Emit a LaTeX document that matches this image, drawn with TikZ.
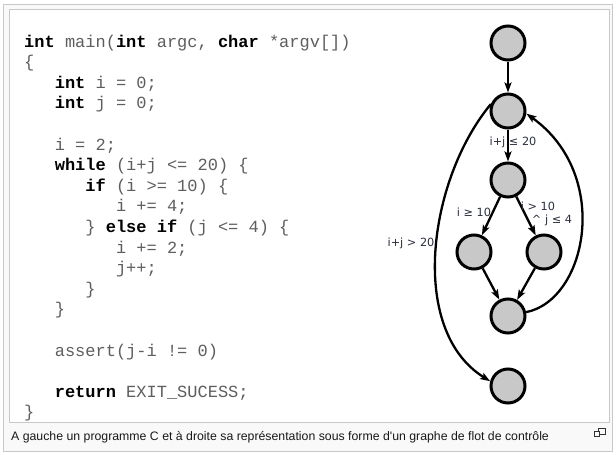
\documentclass[tikz,border=0pt]{standalone}
\usepackage{fontspec}
\setmainfont{Liberation Sans}
\newfontfamily\codefont{Liberation Mono}
\newfontfamily\labfont{DejaVu Sans}
\newfontfamily\capfont{Liberation Sans}[Ligatures=TeXOff]
\usetikzlibrary{arrows.meta}
\definecolor{codegray}{HTML}{5E5E5E}
\definecolor{framegray}{HTML}{C8C8C8}
\definecolor{outerbg}{HTML}{F9F9F9}
\definecolor{nodefill}{HTML}{C8C8C8}
\definecolor{labcol}{HTML}{2C3040}
\newcommand{\kw}[1]{{\bfseries\color{black}#1}}
\tikzset{
  codeline/.style={anchor=base west, inner sep=0pt, font=\codefont\fontsize{17}{20}\selectfont, text=codegray},
  cfgnode/.style={circle, draw=black, fill=nodefill, line width=3pt, minimum size=34pt, inner sep=0pt},
  cfgedge/.style={line width=2.3pt, -{Stealth[length=10pt,width=7pt,inset=2pt]}},
  edgelab/.style={inner sep=0pt, font=\labfont\fontsize{11.3}{13}\selectfont, text=labcol}
}
\begin{document}
\begin{tikzpicture}[x=1pt,y=-1pt]
\useasboundingbox (0,0) rectangle (616,455);
\fill[white] (0,0) rectangle (616,455);
% frames
\draw[framegray, fill=outerbg, line width=1pt] (3.5,4.5) rectangle (612.5,451.5);
\draw[framegray, fill=white, line width=1pt] (9.5,9.5) rectangle (609.5,422.5);
% code
\node[codeline] (l0) at (24,47) {\kw{int} main(\kw{int} argc, \kw{char} *argv[])};
\node[codeline] (l1) at (24,67.6) {\{};
\node[codeline] (l2) at (54.6,88.2) {\kw{int} i = 0;};
\node[codeline] (l3) at (54.6,108.8) {\kw{int} j = 0;};
\node[codeline] (l5) at (54.6,150) {i = 2;};
\node[codeline] (l6) at (54.6,170.6) {\kw{while} (i+j <= 20) \{};
\node[codeline] (l7) at (85.2,191.2) {\kw{if} (i >= 10) \{};
\node[codeline] (l8) at (115.8,211.8) {i += 4;};
\node[codeline] (l9) at (85.2,232.4) {\} \kw{else} \kw{if} (j <= 4) \{};
\node[codeline] (l10) at (115.8,253) {i += 2;};
\node[codeline] (l11) at (115.8,273.6) {j++;};
\node[codeline] (l12) at (85.2,294.2) {\}};
\node[codeline] (l13) at (54.6,314.8) {\}};
\node[codeline] (l15) at (54.6,356) {assert(j-i != 0)};
\node[codeline] (l17) at (54.6,397.2) {\kw{return} EXIT\_SUCESS;};
\node[codeline] (l18) at (24,417.8) {\}};
% graph nodes
\node[cfgnode] (n1) at (508,43) {};
\node[cfgnode] (n2) at (508,111) {};
\node[cfgnode] (n3) at (508,180) {};
\node[cfgnode] (n4) at (474,252) {};
\node[cfgnode] (n5) at (544,252) {};
\node[cfgnode] (n6) at (508,316) {};
\node[cfgnode] (n7) at (508,386) {};
% edges
\draw[cfgedge] (n1) -- (n2);
\draw[cfgedge] (n2) -- (n3);
\draw[cfgedge] (n3) -- (n4);
\draw[cfgedge] (n3) -- (n5);
\draw[cfgedge] (n4) -- (n6);
\draw[cfgedge] (n5) -- (n6);
\draw[cfgedge] (n6.12) .. controls (587,300) and (612,175) .. (n2.-8);
\draw[cfgedge] (n2.158) .. controls (428,180) and (408,330) .. (n7.165);
% labels
\node[edgelab] (t1) at (513,142) {i+j ≤ 20};
\node[edgelab] (t2) at (474,212) {i ≥ 10};
\node[edgelab] (t3) at (538,206) {i > 10};
\node[edgelab] (t4) at (552,220) {\textasciicircum{} j ≤ 4};
\node[edgelab] (t5) at (411,243) {i+j > 20};
% caption
\node[anchor=base west, inner sep=0pt, font=\capfont\fontsize{12.3}{14}\selectfont, text=black!90] (cap) at (11,440) {A gauche un programme C et à droite sa représentation sous forme d'un graphe de flot de contrôle};
% enlarge icon
\draw[black!80, line width=0.8pt] (598.5,428.5) rectangle (605.5,434.5);
\draw[black!80, fill=outerbg, line width=0.8pt] (594.5,431.5) rectangle (599.5,436);
\end{tikzpicture}
\end{document}
